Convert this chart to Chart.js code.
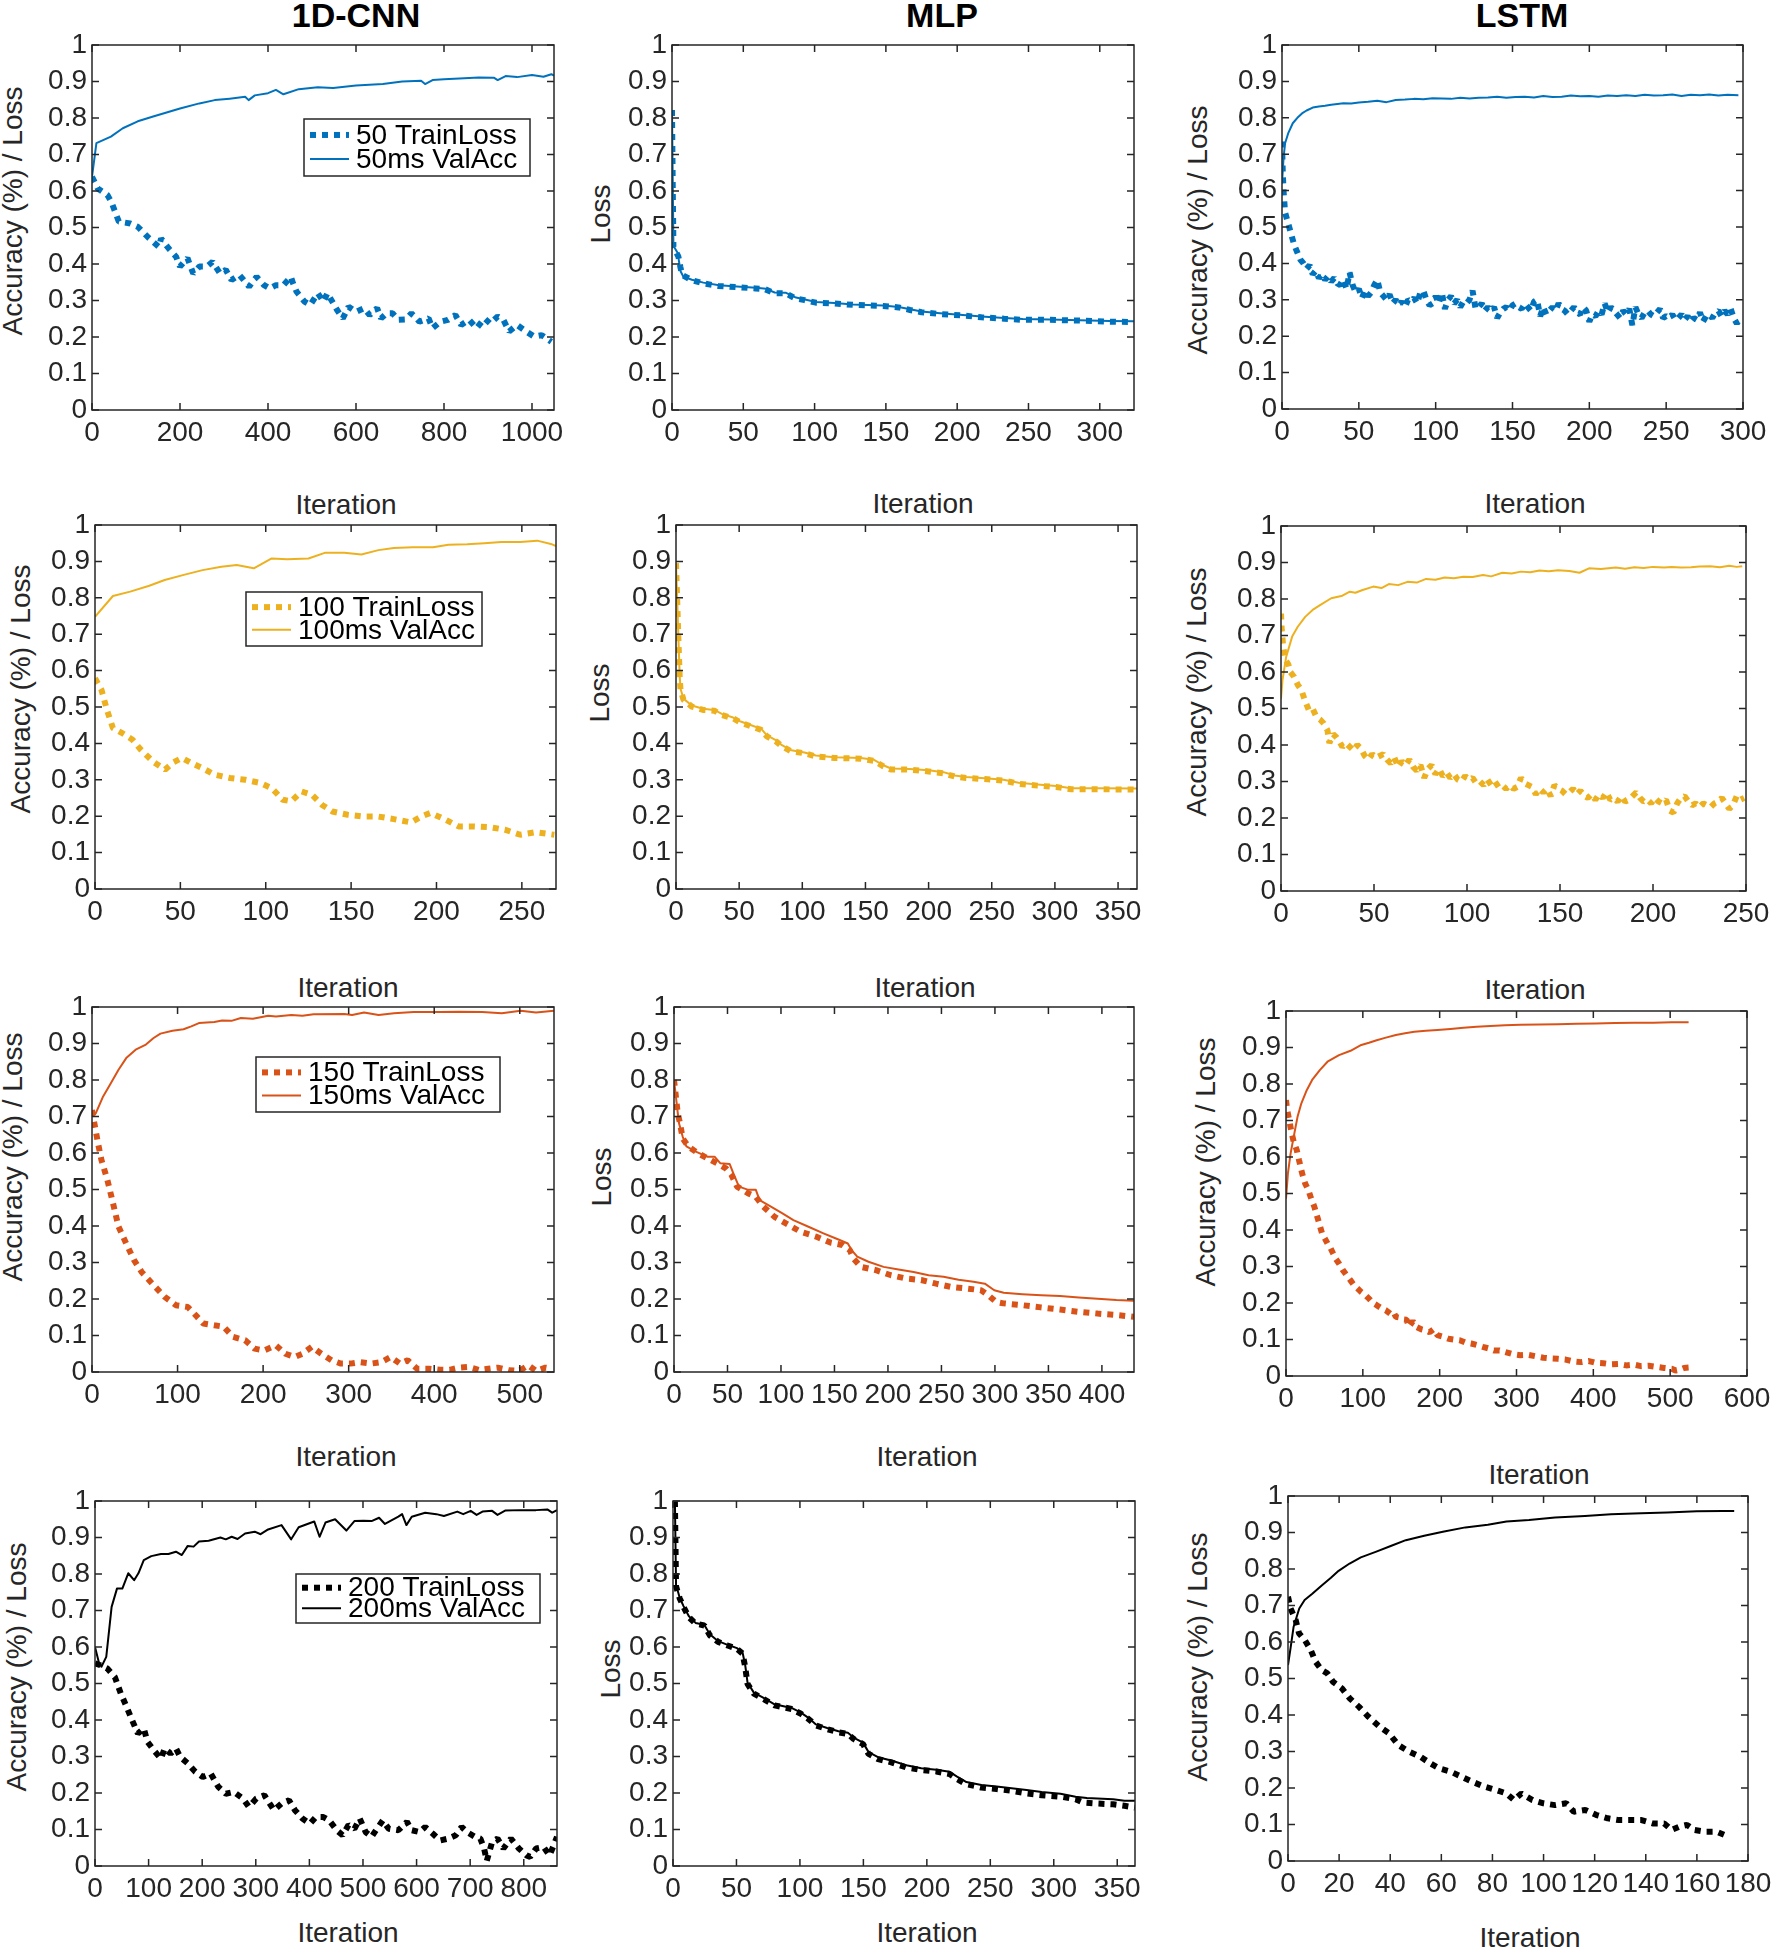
<!DOCTYPE html>
<html>
<head>
<meta charset="utf-8">
<script src="https://cdn.jsdelivr.net/npm/chart.js@4.4.0/dist/chart.umd.min.js"></script>
<style>
body { margin: 0; background: #fff; width: 1773px; height: 1949px; position: relative; overflow: hidden; font-family: "Liberation Sans", Arial, sans-serif; }
canvas { position: absolute; }
.txt { position: absolute; white-space: nowrap; transform: translate(-50%, -50%); font-size: 28px; color: #262626; line-height: 1; }
.ttl { font-weight: bold; font-size: 34px; color: #000; }
.rot { transform: translate(-50%, -50%) rotate(-90deg); }
</style>
</head>
<body>
<script>
// ---- data: [iteration, value] pairs ----

// row 1 : 50 ms
const cnn50Loss = [[0,0.639],[13,0.607],[35,0.589],[44,0.57],[61,0.516],[87,0.511],[104,0.502],[130,0.47],[152,0.447],[157,0.47],[174,0.443],[191,0.42],[200,0.393],[217,0.416],[230,0.374],[244,0.393],[261,0.393],[274,0.406],[291,0.374],[304,0.384],[317,0.356],[335,0.37],[357,0.338],[374,0.365],[391,0.342],[404,0.333],[418,0.342],[435,0.342],[452,0.365],[457,0.347],[465,0.324],[483,0.297],[496,0.288],[513,0.32],[526,0.297],[535,0.32],[557,0.274],[570,0.251],[583,0.283],[600,0.269],[618,0.279],[631,0.26],[648,0.279],[657,0.251],[670,0.265],[683,0.265],[696,0.247],[713,0.248],[726,0.265],[744,0.242],[765,0.251],[774,0.224],[792,0.242],[809,0.247],[826,0.26],[839,0.233],[857,0.247],[874,0.224],[892,0.251],[905,0.237],[922,0.256],[935,0.247],[948,0.215],[966,0.233],[987,0.215],[1005,0.201],[1022,0.205],[1044,0.187]];
const cnn50Acc = [[0,0.639],[10,0.731],[43,0.749],[70,0.772],[104,0.791],[139,0.804],[200,0.826],[244,0.84],[279,0.849],[313,0.853],[348,0.858],[356,0.849],[370,0.862],[400,0.868],[418,0.877],[435,0.865],[470,0.879],[513,0.884],[548,0.882],[600,0.889],[661,0.893],[705,0.9],[748,0.902],[757,0.893],[774,0.904],[800,0.906],[835,0.908],[879,0.911],[914,0.91],[922,0.904],[940,0.915],[966,0.912],[1000,0.918],[1026,0.913],[1044,0.92],[1050,0.916]];

const mlp50Loss = [[0,0.822],[0.5,0.62],[1,0.447],[4.5,0.42],[5.8,0.393],[7.1,0.37],[13.7,0.356],[21.7,0.347],[32.2,0.34],[48,0.336],[58.6,0.333],[65.2,0.331],[71.8,0.32],[79.7,0.32],[86.3,0.306],[93,0.301],[100.9,0.294],[114,0.292],[127,0.288],[148,0.285],[159,0.281],[167,0.274],[175,0.268],[188,0.263],[204,0.259],[217,0.254],[233,0.25],[246,0.247],[265,0.247],[286,0.245],[307,0.242],[324,0.241]];
const mlp50Val = [[0,0.822],[1,0.45],[4,0.43],[6,0.38],[8,0.365],[14,0.357],[22,0.349],[33,0.342],[48,0.338],[59,0.335],[66,0.332],[72,0.322],[80,0.321],[87,0.308],[94,0.302],[101,0.296],[114,0.293],[127,0.289],[148,0.286],[159,0.282],[167,0.276],[175,0.27],[188,0.265],[204,0.26],[217,0.256],[233,0.252],[246,0.249],[265,0.248],[286,0.246],[307,0.244],[324,0.243]];

const lstm50Acc = [[0,0.62],[1,0.69],[2,0.73],[4,0.757],[7,0.785],[10,0.8],[13,0.812],[16,0.82],[20,0.828],[24,0.831],[28,0.833],[32,0.836],[36,0.838],[40,0.84],[45,0.839],[50,0.842],[56,0.844],[62,0.847],[68,0.843],[74,0.849],[80,0.85],[86,0.852],[92,0.851],[98,0.854],[104,0.853],[110,0.852],[116,0.855],[122,0.853],[128,0.855],[134,0.856],[140,0.858],[146,0.855],[152,0.857],[158,0.858],[164,0.856],[170,0.86],[176,0.857],[182,0.858],[188,0.861],[194,0.859],[200,0.86],[206,0.858],[212,0.861],[218,0.86],[224,0.862],[230,0.86],[236,0.863],[242,0.861],[248,0.862],[254,0.864],[260,0.86],[266,0.863],[272,0.862],[278,0.864],[284,0.861],[290,0.863],[297,0.862]];
const lstm50Loss = [[0,0.735],[0.5,0.65],[1,0.6],[2,0.54],[4,0.51],[6,0.48],[8,0.45],[10,0.43],[12,0.41],[14,0.4],[16,0.385],[18,0.395],[20,0.37],[22,0.38],[24,0.36],[26,0.37],[28,0.355],[30,0.365],[32,0.35],[34,0.36],[36,0.345],[38,0.34],[40,0.355],[42,0.33],[44,0.375],[46,0.34],[48,0.32],[50,0.33],[52,0.305],[54,0.325],[56,0.31],[58,0.32],[60,0.34],[62,0.355],[64,0.32],[66,0.31],[68,0.3],[70,0.315],[72,0.29],[74,0.3],[76,0.285],[78,0.295],[80,0.28],[82,0.3],[84,0.295],[86,0.305],[88,0.29],[90,0.32],[92,0.325],[94,0.3],[96,0.285],[98,0.29],[100,0.31],[102,0.29],[104,0.32],[106,0.275],[108,0.3],[110,0.31],[112,0.29],[114,0.3],[116,0.28],[118,0.295],[120,0.29],[122,0.3],[124,0.325],[126,0.275],[128,0.28],[130,0.29],[132,0.27],[134,0.28],[136,0.27],[138,0.28],[140,0.25],[142,0.265],[144,0.275],[146,0.28],[148,0.27],[150,0.285],[152,0.29],[154,0.28],[156,0.275],[158,0.29],[160,0.28],[162,0.27],[164,0.295],[166,0.3],[168,0.255],[170,0.28],[172,0.26],[174,0.27],[176,0.28],[178,0.27],[180,0.29],[182,0.275],[184,0.27],[186,0.26],[188,0.27],[190,0.28],[192,0.265],[194,0.26],[196,0.28],[198,0.27],[200,0.24],[202,0.26],[204,0.255],[206,0.27],[208,0.26],[210,0.29],[212,0.265],[214,0.28],[216,0.27],[218,0.26],[220,0.25],[222,0.27],[224,0.26],[226,0.275],[228,0.23],[230,0.28],[232,0.26],[234,0.25],[236,0.265],[238,0.27],[240,0.26],[242,0.255],[244,0.265],[246,0.275],[248,0.25],[250,0.255],[252,0.25],[254,0.26],[256,0.245],[258,0.25],[260,0.26],[262,0.245],[264,0.255],[266,0.24],[268,0.25],[270,0.245],[272,0.265],[274,0.24],[276,0.255],[278,0.26],[280,0.25],[282,0.265],[284,0.27],[286,0.255],[288,0.27],[290,0.26],[292,0.275],[294,0.25],[296,0.235],[298,0.25]];

// row 2 : 100 ms
const cnn100Loss = [[0,0.579],[3.8,0.547],[7,0.492],[10.5,0.442],[16,0.428],[22,0.41],[27,0.382],[34,0.35],[41,0.328],[46,0.348],[51,0.36],[56.5,0.346],[63,0.332],[70,0.314],[79,0.305],[88,0.3],[97,0.291],[103.5,0.277],[110,0.245],[115,0.241],[121,0.268],[127,0.259],[133,0.231],[139,0.213],[148,0.204],[157,0.199],[166,0.199],[175,0.192],[185,0.183],[191,0.199],[196.5,0.209],[205.5,0.19],[213,0.172],[222,0.172],[231,0.17],[240,0.163],[249,0.149],[258,0.156],[269,0.149]];
const cnn100Acc = [[0,0.748],[10.5,0.805],[20.6,0.817],[31.8,0.833],[40.8,0.849],[52,0.863],[63,0.876],[74,0.885],[83,0.89],[93,0.881],[103.5,0.908],[112.5,0.906],[125,0.908],[135,0.924],[146,0.924],[156,0.919],[166,0.931],[175,0.937],[186,0.939],[198,0.939],[207,0.946],[218,0.947],[228,0.95],[238,0.953],[249,0.953],[259,0.957],[267,0.948],[270,0.942]];

const mlp100Loss = [[0,0.895],[2.1,0.666],[3,0.575],[3.6,0.547],[5.9,0.52],[12.5,0.501],[21.4,0.492],[30.3,0.49],[36.3,0.478],[45.2,0.469],[51.2,0.457],[60.1,0.446],[67.5,0.437],[72,0.419],[79.4,0.405],[83.9,0.392],[91.3,0.378],[101.7,0.373],[110.7,0.364],[125.5,0.36],[146.4,0.358],[156.8,0.352],[164.2,0.337],[170.2,0.328],[185,0.328],[199.9,0.323],[211.8,0.318],[220.7,0.309],[229.6,0.305],[244.5,0.302],[259.4,0.298],[271.3,0.289],[286.2,0.284],[301,0.28],[312.9,0.274],[333.8,0.274],[365,0.273]];
const mlp100Val = [[0,0.895],[2.1,0.67],[3,0.58],[3.6,0.55],[5.9,0.523],[12.5,0.504],[21.4,0.495],[30.3,0.492],[36.3,0.481],[45.2,0.471],[51.2,0.46],[60.1,0.449],[67.5,0.44],[72,0.422],[79.4,0.408],[83.9,0.395],[91.3,0.381],[101.7,0.375],[110.7,0.367],[125.5,0.362],[146.4,0.36],[156.8,0.355],[164.2,0.34],[170.2,0.331],[185,0.33],[199.9,0.326],[211.8,0.321],[220.7,0.312],[229.6,0.308],[244.5,0.304],[259.4,0.3],[271.3,0.292],[286.2,0.287],[301,0.283],[312.9,0.277],[333.8,0.277],[365,0.276]];

const lstm100Acc = [[0,0.527],[0.8,0.578],[2.8,0.642],[6,0.697],[9,0.724],[13,0.751],[17,0.77],[21,0.783],[27,0.802],[33,0.809],[37,0.82],[40,0.817],[43.5,0.824],[49.6,0.834],[54,0.83],[58,0.841],[63,0.838],[68,0.847],[73,0.845],[78,0.855],[83,0.853],[88,0.859],[93,0.857],[98,0.861],[103,0.86],[108.6,0.866],[113,0.862],[119,0.872],[124,0.87],[129,0.875],[134,0.873],[139,0.878],[144,0.876],[149,0.879],[155,0.877],[160.5,0.872],[165.6,0.884],[172,0.882],[180,0.886],[185,0.883],[190,0.887],[195,0.885],[200,0.888],[206,0.886],[210,0.888],[215,0.886],[220.5,0.887],[225,0.889],[230.7,0.89],[236,0.887],[241,0.891],[245,0.888],[248,0.89]];
const lstm100Loss = [[0,0.76],[0.4,0.715],[1.2,0.669],[2.4,0.633],[4,0.62],[5,0.6],[7,0.587],[9,0.565],[11,0.55],[13,0.52],[15,0.495],[17,0.5],[19,0.477],[21,0.47],[23,0.459],[25,0.44],[26,0.405],[28,0.43],[30,0.42],[31,0.413],[33,0.395],[35,0.405],[37,0.395],[39,0.385],[41,0.4],[43,0.39],[45,0.37],[47,0.36],[49,0.375],[51,0.365],[53,0.37],[55,0.375],[57,0.36],[59,0.35],[61,0.365],[63,0.34],[65,0.355],[67,0.345],[69,0.36],[71,0.34],[73,0.33],[75,0.345],[77,0.31],[79,0.335],[81,0.345],[83,0.32],[85,0.335],[87,0.315],[89,0.325],[91,0.31],[93,0.32],[95,0.305],[97,0.3],[99,0.315],[101,0.305],[103,0.31],[105,0.295],[107,0.3],[109,0.29],[111,0.305],[113,0.29],[115,0.3],[117,0.285],[119,0.29],[121,0.28],[123,0.29],[125,0.28],[127,0.285],[129,0.31],[131,0.295],[133,0.29],[135,0.285],[137,0.265],[139,0.28],[141,0.27],[143,0.28],[145,0.26],[147,0.29],[149,0.28],[151,0.275],[153,0.265],[155,0.27],[157,0.28],[159,0.265],[161,0.275],[163,0.26],[165,0.255],[167,0.265],[169,0.25],[171,0.265],[173,0.255],[175,0.27],[177,0.25],[179,0.255],[181,0.245],[183,0.26],[185,0.245],[187,0.25],[189,0.26],[191,0.27],[193,0.255],[195,0.245],[197,0.25],[199,0.24],[201,0.255],[203,0.245],[205,0.24],[207,0.25],[209,0.22],[211,0.215],[213,0.24],[215,0.255],[217,0.26],[219,0.245],[221,0.235],[223,0.24],[225,0.23],[227,0.24],[229,0.235],[231,0.23],[233,0.24],[235,0.245],[237,0.255],[239,0.24],[241,0.225],[243,0.235],[245,0.26],[247,0.25],[249,0.255]];

// row 3 : 150 ms
const cnn150Loss = [[0,0.718],[2,0.691],[6.7,0.631],[11,0.581],[18,0.526],[24.6,0.462],[31,0.398],[40,0.352],[49,0.307],[58,0.274],[72,0.238],[85,0.206],[98,0.183],[112,0.178],[121,0.156],[130,0.133],[143,0.128],[154,0.124],[165,0.096],[179,0.087],[190,0.064],[201,0.059],[215,0.073],[226,0.05],[237,0.041],[246,0.05],[257,0.069],[268,0.05],[280,0.032],[291,0.023],[302,0.023],[313,0.027],[326,0.023],[338,0.027],[349,0.041],[360,0.023],[369,0.032],[380,0.009],[394,0.009],[407,0.006],[418,0.006],[429,0.012],[440,0.014],[452,0.006],[463,0.009],[474,0.012],[487,0.005],[499,0.003],[510,0.018],[519,0.003],[530,0.012],[537,0.009]];
const cnn150Acc = [[0,0.7],[4.5,0.709],[13,0.755],[22,0.791],[31,0.828],[40,0.86],[51,0.883],[63,0.897],[72,0.915],[80,0.927],[94,0.935],[107,0.939],[116,0.947],[125,0.956],[143,0.959],[152,0.963],[163,0.962],[174,0.97],[188,0.968],[206,0.976],[215,0.974],[233,0.978],[246,0.976],[259,0.98],[295,0.981],[304,0.978],[318,0.985],[335,0.978],[353,0.983],[376,0.986],[407,0.986],[429,0.987],[456,0.986],[479,0.983],[501,0.99],[519,0.985],[540,0.99]];

const mlp150Loss = [[0,0.8],[2.1,0.746],[3.5,0.709],[5.6,0.682],[8.1,0.64],[13.3,0.618],[22.1,0.6],[30.9,0.586],[41.4,0.57],[48.4,0.558],[53.7,0.54],[59,0.508],[69.5,0.489],[76.5,0.48],[83.5,0.453],[94,0.425],[104.6,0.407],[118.6,0.384],[132.7,0.371],[146.7,0.354],[157.3,0.348],[164.3,0.334],[167.8,0.311],[174.8,0.288],[188.8,0.279],[202.9,0.265],[216.9,0.256],[231,0.252],[245,0.242],[259,0.233],[273,0.229],[287,0.224],[294,0.21],[301,0.192],[308,0.188],[325.7,0.183],[343,0.177],[361,0.171],[378,0.165],[396,0.16],[413.5,0.156],[430,0.151]];
const mlp150Val = [[0,0.8],[2.1,0.746],[4.6,0.682],[8.1,0.645],[11.6,0.618],[20.4,0.604],[30.9,0.59],[37.9,0.59],[43.2,0.572],[52,0.57],[55.5,0.544],[60.7,0.508],[69.5,0.499],[76.5,0.499],[80,0.471],[90.6,0.453],[101,0.435],[111.6,0.416],[125.7,0.398],[139.7,0.38],[153.7,0.363],[162.5,0.352],[166,0.334],[171.3,0.316],[181.8,0.302],[195.9,0.288],[209.9,0.281],[224,0.274],[238,0.265],[252,0.261],[266,0.253],[280,0.247],[290.6,0.242],[299.4,0.224],[308.2,0.217],[325.7,0.213],[343.3,0.21],[360.9,0.208],[378.4,0.204],[396,0.201],[413.5,0.197],[430,0.195]];

const lstm150Acc = [[0,0.486],[2.5,0.555],[6,0.61],[10,0.655],[15,0.71],[20,0.747],[27,0.783],[34,0.811],[44,0.838],[54,0.861],[69,0.879],[84,0.891],[98,0.907],[108,0.913],[118,0.92],[130,0.927],[143,0.934],[155,0.939],[167,0.943],[182,0.946],[197,0.948],[214,0.951],[231,0.954],[248,0.957],[266,0.959],[285,0.961],[305,0.962],[330,0.963],[354,0.964],[378,0.965],[403,0.966],[428,0.967],[453,0.968],[478,0.968],[502,0.969],[524,0.969]];
const lstm150Loss = [[0,0.756],[1.5,0.729],[5,0.692],[7,0.669],[10,0.642],[14,0.619],[17,0.591],[21,0.555],[25,0.527],[29,0.51],[32,0.491],[37,0.463],[42,0.427],[47,0.39],[51,0.375],[54,0.363],[58,0.35],[61.5,0.335],[65,0.32],[69,0.308],[74,0.29],[79,0.276],[84,0.262],[88.5,0.249],[93,0.24],[98,0.23],[103,0.222],[108,0.212],[113,0.2],[118,0.194],[124,0.186],[130,0.18],[136,0.17],[140,0.175],[143,0.162],[148,0.16],[152,0.155],[157,0.154],[160,0.135],[165,0.15],[170,0.134],[176,0.128],[182,0.125],[187,0.12],[192,0.128],[197,0.112],[204,0.108],[211.5,0.102],[218,0.1],[226,0.098],[233,0.092],[241,0.089],[248,0.085],[256,0.08],[263,0.076],[270.5,0.07],[278,0.07],[285,0.066],[295,0.06],[305,0.057],[315,0.058],[325,0.054],[335,0.05],[344,0.048],[354,0.047],[364,0.045],[374,0.04],[384,0.038],[394,0.041],[403,0.036],[413,0.035],[423,0.032],[433,0.033],[443,0.029],[453,0.031],[462,0.027],[472,0.028],[482,0.025],[492,0.022],[502,0.02],[507,0.015],[512,0.017],[518,0.022],[524,0.023]];

// row 4 : 200 ms
const cnn200Loss = [[0,0.555],[10,0.55],[23,0.541],[37,0.518],[48,0.473],[59,0.436],[69,0.4],[80,0.363],[91,0.377],[98,0.34],[112,0.313],[123,0.294],[130,0.322],[141,0.308],[151,0.322],[159,0.299],[173,0.281],[187,0.258],[201,0.244],[216,0.253],[230,0.217],[244,0.198],[259,0.203],[276,0.185],[287,0.162],[301,0.185],[316,0.194],[326,0.171],[334,0.153],[348,0.171],[362,0.18],[373,0.153],[387,0.13],[401,0.116],[412,0.134],[426,0.134],[437,0.125],[451,0.098],[462,0.084],[473,0.112],[484,0.102],[494,0.13],[505,0.093],[516,0.08],[526,0.102],[537,0.125],[548,0.102],[566,0.098],[582,0.121],[591,0.098],[605,0.093],[616,0.107],[630,0.089],[644,0.07],[659,0.075],[673,0.084],[684,0.107],[694,0.093],[709,0.08],[719,0.075],[726,0.048],[731,0.014],[741,0.066],[751,0.075],[762,0.048],[776,0.075],[791,0.048],[805,0.029],[812,0.025],[823,0.048],[837,0.052],[848,0.029],[856,0.057],[862,0.08]];
const cnn200Acc = [[0,0.6],[7,0.559],[12,0.546],[21,0.573],[31,0.71],[41,0.76],[51,0.76],[62,0.802],[73,0.783],[81,0.802],[91,0.838],[105,0.849],[123,0.855],[137,0.855],[151,0.861],[162,0.852],[173,0.877],[184,0.875],[194,0.889],[212,0.891],[234,0.9],[244,0.895],[255,0.902],[266,0.896],[280,0.911],[298,0.916],[309,0.909],[323,0.922],[348,0.934],[366,0.895],[380,0.928],[409,0.944],[419,0.902],[430,0.941],[448,0.95],[469,0.919],[484,0.945],[501,0.946],[516,0.945],[530,0.954],[541,0.937],[566,0.957],[573,0.964],[581,0.934],[591,0.957],[616,0.968],[637,0.964],[651,0.959],[676,0.971],[687,0.964],[701,0.973],[712,0.962],[723,0.971],[741,0.973],[751,0.962],[766,0.974],[794,0.975],[823,0.975],[844,0.977],[853,0.968],[862,0.975]];

const mlp200Loss = [[1.5,1.0],[2.4,0.766],[5.3,0.733],[8.3,0.71],[12.4,0.682],[17.8,0.664],[24.6,0.659],[29,0.632],[35.6,0.614],[43,0.604],[50.4,0.595],[54.8,0.582],[56.9,0.545],[58.7,0.499],[63.7,0.472],[71,0.458],[80,0.44],[93.4,0.43],[100.8,0.417],[106.7,0.403],[112.6,0.385],[121.5,0.375],[130.4,0.366],[137.8,0.362],[142.3,0.348],[149.7,0.334],[154.1,0.307],[161.5,0.293],[172,0.284],[183.8,0.27],[195.6,0.263],[207.5,0.259],[217.9,0.252],[223.8,0.238],[231.2,0.224],[243,0.215],[254.9,0.211],[266.8,0.206],[278.6,0.199],[290.5,0.194],[305.3,0.19],[317.2,0.183],[323.1,0.174],[335,0.171],[346.8,0.169],[355.7,0.165],[364,0.16]];
const mlp200Val = [[1.5,1.0],[2.4,0.77],[5.3,0.735],[8.3,0.712],[12.4,0.685],[17.8,0.666],[24.6,0.661],[29,0.635],[35.6,0.616],[43,0.606],[50.4,0.597],[54.8,0.585],[56.9,0.55],[58.7,0.503],[63.7,0.475],[71,0.461],[80,0.443],[93.4,0.433],[100.8,0.42],[106.7,0.406],[112.6,0.388],[121.5,0.378],[130.4,0.369],[137.8,0.365],[142.3,0.352],[149.7,0.338],[154.1,0.312],[161.5,0.298],[172,0.289],[183.8,0.276],[195.6,0.268],[207.5,0.264],[217.9,0.258],[223.8,0.245],[231.2,0.23],[243,0.222],[254.9,0.218],[266.8,0.213],[278.6,0.208],[290.5,0.203],[305.3,0.198],[317.2,0.19],[326,0.186],[346.8,0.183],[355.7,0.179],[364,0.179]];

const lstm200Acc = [[0,0.537],[1,0.583],[2.2,0.642],[4.4,0.692],[6.5,0.715],[9.5,0.732],[13.2,0.755],[16.8,0.776],[19.8,0.795],[24.1,0.815],[28.5,0.832],[34.3,0.847],[40.2,0.863],[46.1,0.879],[53.3,0.891],[60.6,0.902],[69.4,0.914],[78.2,0.921],[85.5,0.93],[94.3,0.934],[104.5,0.941],[116.2,0.945],[126.4,0.95],[138.2,0.953],[148.4,0.955],[160,0.958],[170.3,0.959],[174.6,0.959]];
const lstm200Loss = [[0,0.724],[1,0.692],[3,0.66],[4.3,0.624],[6.6,0.605],[8.9,0.578],[10.8,0.546],[13.2,0.523],[15.4,0.514],[17.6,0.491],[21.1,0.473],[24.1,0.446],[27.7,0.423],[31.5,0.395],[35.8,0.368],[39.5,0.35],[43.1,0.318],[47.3,0.3],[51.7,0.286],[55.6,0.268],[59.1,0.254],[63.6,0.245],[67.9,0.231],[72.2,0.217],[76.7,0.204],[81.1,0.195],[85.5,0.185],[88.4,0.167],[91.3,0.185],[95.7,0.167],[100,0.158],[104.5,0.153],[108.9,0.158],[111.8,0.135],[116.3,0.14],[120.7,0.126],[125.1,0.117],[129.5,0.112],[133.9,0.112],[138.3,0.112],[142.7,0.103],[147.2,0.103],[150.1,0.085],[153.1,0.094],[156.1,0.099],[159,0.085],[163.5,0.08],[167.9,0.08],[172.3,0.067]];

// ---- styling ----
const BLUE = '#0072BD', YELLOW = '#EDB120', ORANGE = '#D95319', BLACK = '#000000';
const ML = 90, MT = 25, MR = 45, MB = 50;

// plot boxes: [left, top, right, bottom] in page px
const panels = [
  { box: [92, 45, 554, 410], xMax: 1050, xStep: 200, color: BLUE, train: cnn50Loss, val: cnn50Acc,
    legend: { box: [304, 119, 530, 176], labels: ['50 TrainLoss', '50ms ValAcc'] } },
  { box: [672, 45, 1134, 410], xMax: 324, xStep: 50, color: BLUE, train: mlp50Loss, val: mlp50Val },
  { box: [1282, 45, 1743, 409], xMax: 300, xStep: 50, color: BLUE, train: lstm50Loss, val: lstm50Acc },

  { box: [95, 525, 556, 889], xMax: 270, xStep: 50, color: YELLOW, train: cnn100Loss, val: cnn100Acc,
    legend: { box: [246, 592, 482, 646], labels: ['100 TrainLoss', '100ms ValAcc'] } },
  { box: [676, 525, 1137, 889], xMax: 365, xStep: 50, color: YELLOW, train: mlp100Loss, val: mlp100Val },
  { box: [1281, 526, 1746, 891], xMax: 250, xStep: 50, color: YELLOW, train: lstm100Loss, val: lstm100Acc },

  { box: [92, 1007, 554, 1372], xMax: 540, xStep: 100, color: ORANGE, train: cnn150Loss, val: cnn150Acc,
    legend: { box: [256, 1057, 500, 1112], labels: ['150 TrainLoss', '150ms ValAcc'] } },
  { box: [674, 1007, 1134, 1372], xMax: 430, xStep: 50, color: ORANGE, train: mlp150Loss, val: mlp150Val },
  { box: [1286, 1011, 1747, 1376], xMax: 600, xStep: 100, color: ORANGE, train: lstm150Loss, val: lstm150Acc },

  { box: [95, 1501, 557, 1866], xMax: 862, xStep: 100, color: BLACK, train: cnn200Loss, val: cnn200Acc,
    legend: { box: [296, 1574, 540, 1623], labels: ['200 TrainLoss', '200ms ValAcc'] } },
  { box: [673, 1501, 1135, 1866], xMax: 364, xStep: 50, color: BLACK, train: mlp200Loss, val: mlp200Val },
  { box: [1288, 1496, 1748, 1861], xMax: 180, xStep: 20, color: BLACK, train: lstm200Loss, val: lstm200Acc }
];

// text labels: [text, x, y, class]
const labels = [
  ['1D-CNN', 356, 15, 'ttl'], ['MLP', 942, 15, 'ttl'], ['LSTM', 1522, 15, 'ttl'],
  ['Accuracy (%) / Loss', 13, 211, 'rot'], ['Accuracy (%) / Loss', 21, 689, 'rot'],
  ['Accuracy (%) / Loss', 13, 1157, 'rot'], ['Accuracy (%) / Loss', 17, 1667, 'rot'],
  ['Loss', 601, 214, 'rot'], ['Loss', 600, 693, 'rot'], ['Loss', 602, 1177, 'rot'], ['Loss', 611, 1669, 'rot'],
  ['Accuracy (%) / Loss', 1198, 230, 'rot'], ['Accuracy (%) / Loss', 1197, 692, 'rot'],
  ['Accuracy (%) / Loss', 1206, 1162, 'rot'], ['Accuracy (%) / Loss', 1198, 1657, 'rot'],
  ['Iteration', 346, 505, ''], ['Iteration', 923, 504, ''], ['Iteration', 1535, 504, ''],
  ['Iteration', 348, 988, ''], ['Iteration', 925, 988, ''], ['Iteration', 1535, 990, ''],
  ['Iteration', 346, 1457, ''], ['Iteration', 927, 1457, ''], ['Iteration', 1539, 1475, ''],
  ['Iteration', 348, 1933, ''], ['Iteration', 927, 1933, ''], ['Iteration', 1530, 1938, '']
];

labels.forEach(([t, x, y, cls]) => {
  const d = document.createElement('div');
  d.className = 'txt ' + cls;
  d.textContent = t;
  d.style.left = x + 'px';
  d.style.top = y + 'px';
  document.body.appendChild(d);
});

Chart.defaults.font.family = "'Liberation Sans', Arial, sans-serif";
Chart.defaults.color = '#262626';

const TRAIN_W = 6, TRAIN_DASH = [6, 6], VAL_W = 2;

// box with inward ticks on all sides, plus a MATLAB-like legend
const framePlugin = {
  id: 'frame',
  afterDraw(chart, args, opts) {
    const { ctx, chartArea: a, scales: { x, y } } = chart;
    ctx.save();
    ctx.strokeStyle = '#262626';
    ctx.lineWidth = 1.5;
    ctx.strokeRect(a.left, a.top, a.right - a.left, a.bottom - a.top);
    const t = 7;
    ctx.beginPath();
    x.ticks.forEach(tk => {
      const px = x.getPixelForValue(tk.value);
      ctx.moveTo(px, a.bottom); ctx.lineTo(px, a.bottom - t);
      ctx.moveTo(px, a.top); ctx.lineTo(px, a.top + t);
    });
    y.ticks.forEach(tk => {
      const py = y.getPixelForValue(tk.value);
      ctx.moveTo(a.left, py); ctx.lineTo(a.left + t, py);
      ctx.moveTo(a.right, py); ctx.lineTo(a.right - t, py);
    });
    ctx.stroke();

    const lg = opts.legend;
    if (lg) {
      const ox = opts.ox, oy = opts.oy;
      const [l, tp, r, b] = lg.box.map((v, i) => v - (i % 2 === 0 ? ox : oy));
      ctx.fillStyle = '#fff';
      ctx.fillRect(l, tp, r - l, b - tp);
      ctx.strokeStyle = '#262626';
      ctx.lineWidth = 1.5;
      ctx.strokeRect(l, tp, r - l, b - tp);
      const h = b - tp;
      const rows = [tp + h * 0.28, tp + h * 0.7];
      ctx.strokeStyle = opts.color;
      ctx.lineWidth = TRAIN_W;
      ctx.setLineDash(TRAIN_DASH);
      ctx.beginPath(); ctx.moveTo(l + 6, rows[0]); ctx.lineTo(l + 45, rows[0]); ctx.stroke();
      ctx.setLineDash([]);
      ctx.lineWidth = VAL_W;
      ctx.beginPath(); ctx.moveTo(l + 6, rows[1]); ctx.lineTo(l + 45, rows[1]); ctx.stroke();
      ctx.fillStyle = '#000';
      ctx.font = "28px 'Liberation Sans', Arial, sans-serif";
      ctx.textBaseline = 'middle';
      ctx.textAlign = 'left';
      ctx.fillText(lg.labels[0], l + 52, rows[0] + 1);
      ctx.fillText(lg.labels[1], l + 52, rows[1] + 1);
    }
    ctx.restore();
  }
};

const toPts = arr => arr.map(([x, y]) => ({ x, y }));

panels.forEach(p => {
  const [left, top, right, bottom] = p.box;
  const cv = document.createElement('canvas');
  const w = right - left + ML + MR, h = bottom - top + MT + MB;
  cv.width = w; cv.height = h;
  cv.style.left = (left - ML) + 'px';
  cv.style.top = (top - MT) + 'px';
  cv.style.width = w + 'px';
  cv.style.height = h + 'px';
  document.body.appendChild(cv);

  new Chart(cv, {
    type: 'line',
    data: {
      datasets: [{
        data: toPts(p.train),
        borderColor: p.color,
        borderWidth: TRAIN_W,
        borderDash: TRAIN_DASH,
        borderJoinStyle: 'bevel',
        pointRadius: 0,
        fill: false,
        order: 2
      }, {
        data: toPts(p.val),
        borderColor: p.color,
        borderWidth: VAL_W,
        borderJoinStyle: 'round',
        pointRadius: 0,
        fill: false,
        order: 1
      }]
    },
    options: {
      responsive: false,
      animation: false,
      layout: { padding: { left: 0, top: MT, right: MR, bottom: 0 } },
      plugins: {
        legend: { display: false },
        tooltip: { enabled: false },
        frame: { legend: p.legend, color: p.color, ox: left - ML, oy: top - MT }
      },
      scales: {
        x: {
          type: 'linear',
          min: 0,
          max: p.xMax,
          grid: { display: false, drawTicks: false },
          border: { display: false },
          ticks: {
            stepSize: p.xStep,
            includeBounds: false,
            autoSkip: false,
            maxRotation: 0,
            minRotation: 0,
            padding: 6,
            font: { size: 28 },
            callback: v => String(v)
          },
          afterFit: s => { s.height = MB; s.paddingLeft = 0; s.paddingRight = 0; }
        },
        y: {
          min: 0,
          max: 1,
          grid: { display: false, drawTicks: false },
          border: { display: false },
          ticks: {
            stepSize: 0.1,
            autoSkip: false,
            padding: 5,
            font: { size: 28 },
            callback: v => String(Math.round(v * 10) / 10)
          },
          afterFit: s => { s.width = ML; s.paddingTop = 0; s.paddingBottom = 0; }
        }
      }
    },
    plugins: [framePlugin]
  });
});
</script>
</body>
</html>
